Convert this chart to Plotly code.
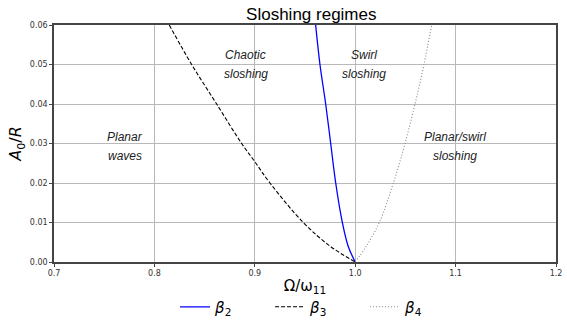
import plotly.graph_objects as go

# beta_2 (solid blue)
b2_x = [0.9606, 0.9649, 0.9706, 0.9756, 0.9806, 0.9872, 0.9930, 1.0]
b2_y = [0.060, 0.050, 0.040, 0.030, 0.020, 0.010, 0.004, 0.0]
# beta_3 (dashed black)
b3_x = [0.8148, 0.8371, 0.8620, 0.8869, 0.9000, 0.9151, 0.9483, 0.9750, 1.0]
b3_y = [0.060, 0.050, 0.040, 0.030, 0.0254, 0.020, 0.010, 0.004, 0.0]
# beta_4 (dotted grey)
b4_x = [1.0, 1.0110, 1.0240, 1.0380, 1.0496, 1.0596, 1.0685, 1.0762]
b4_y = [0.0, 0.004, 0.010, 0.020, 0.030, 0.040, 0.050, 0.060]

region_line1 = ["Planar", "Chaotic", "Swirl", "Planar/swirl"]
region_line2 = ["waves", "sloshing", "sloshing", "sloshing"]
region_x = [0.771, 0.891, 1.009, 1.099]
region_y1 = [0.0317, 0.0525, 0.0525, 0.0317]
region_y2 = [0.0268, 0.0476, 0.0476, 0.0268]

x_ticks = [0.7, 0.8, 0.9, 1.0, 1.1, 1.2]
y_ticks = [0.0, 0.01, 0.02, 0.03, 0.04, 0.05, 0.06]

fig = go.Figure()
fig.add_trace(go.Scatter(x=b2_x, y=b2_y, mode="lines", name="<i>β</i><sub>2</sub>",
                         line=dict(color="#0000ff", width=1.3, shape="spline")))
fig.add_trace(go.Scatter(x=b3_x, y=b3_y, mode="lines", name="<i>β</i><sub>3</sub>",
                         line=dict(color="black", width=1.1, dash="4px,2px", shape="spline")))
fig.add_trace(go.Scatter(x=b4_x, y=b4_y, mode="lines", name="<i>β</i><sub>4</sub>",
                         line=dict(color="#888888", width=1.1, dash="1px,2px", shape="spline")))

afont = dict(family="Liberation Sans, Arial", size=12, color="#222222")
for t1, t2, x, y1, y2 in zip(region_line1, region_line2, region_x, region_y1, region_y2):
    fig.add_annotation(x=x, y=y1, text="<i>" + t1 + "</i>", showarrow=False, font=afont)
    fig.add_annotation(x=x, y=y2, text="<i>" + t2 + "</i>", showarrow=False, font=afont)

axis_common = dict(showline=True, linecolor="#444444", linewidth=1.5, mirror=True,
                   showgrid=True, gridcolor="#b8b8b8", gridwidth=1,
                   ticks="outside", ticklen=3, tickcolor="#444444",
                   tickfont=dict(family="DejaVu Sans", size=8, color="#333333"),
                   zeroline=False)

fig.update_layout(
    width=567, height=320,
    margin=dict(l=54, r=11, t=25, b=58, autoexpand=False),
    plot_bgcolor="white", paper_bgcolor="white",
    title=dict(text="Sloshing regimes", x=0.549, xanchor="center", y=0.955, yanchor="middle",
               font=dict(family="Liberation Sans, Arial", size=17, color="black")),
    xaxis=dict(range=[0.7, 1.2], tickvals=x_ticks, ticktext=[f"{v:.1f}" for v in x_ticks],
               title=dict(text="Ω/ω<sub>11</sub>", font=dict(family="DejaVu Sans", size=15, color="black"),
                          standoff=3),
               **axis_common),
    yaxis=dict(range=[0, 0.06], tickvals=y_ticks, ticktext=[f"{v:.2f}" for v in y_ticks],
               title=dict(text="<i>A</i><sub>0</sub>/<i>R</i>", font=dict(family="DejaVu Sans", size=16, color="black"),
                          standoff=4),
               **axis_common),
    legend=dict(orientation="h", x=0.525, xanchor="center", y=-0.19, yanchor="middle",
                font=dict(family="DejaVu Sans", size=15, color="black"),
                entrywidth=50, entrywidthmode="pixels", traceorder="normal"),
)

fig.write_html("out.html")
